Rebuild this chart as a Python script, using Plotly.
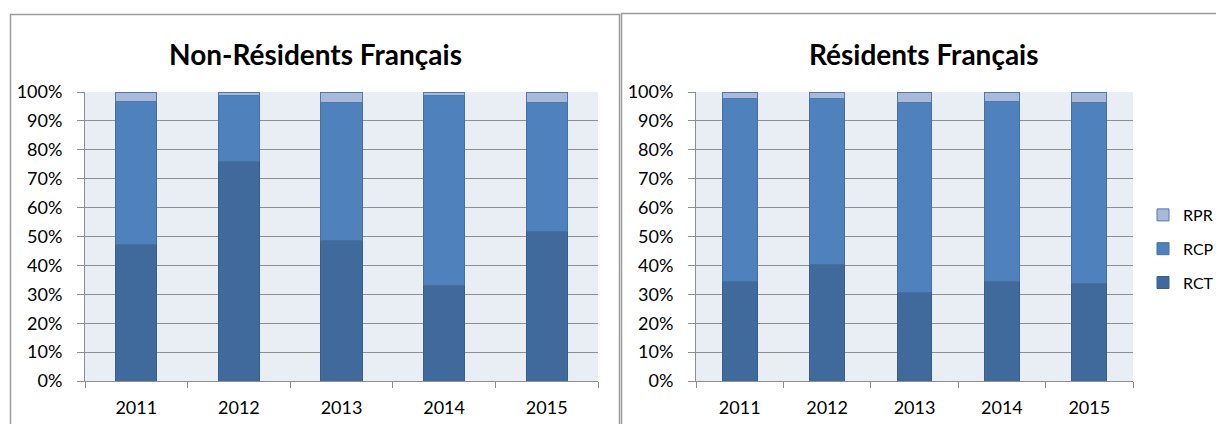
import plotly.graph_objects as go

W, H = 1216, 424

years = ["2011", "2012", "2013", "2014", "2015"]

# Non-Résidents Français (share of each component, %)
nr_rct = [47.3, 75.9, 48.7, 32.9, 51.6]
nr_rcp = [49.5, 22.9, 47.6, 65.9, 44.7]
nr_rpr = [3.2, 1.2, 3.7, 1.2, 3.7]

# Résidents Français (share of each component, %)
r_rct = [34.3, 40.3, 30.6, 34.3, 33.7]
r_rcp = [63.4, 57.4, 65.8, 62.5, 62.6]
r_rpr = [2.3, 2.3, 3.6, 3.2, 3.7]

series_names = ["RCT", "RCP", "RPR"]
legend_rank = {"RPR": 1, "RCP": 2, "RCT": 3}
fills = {"RCT": "#416A9C", "RCP": "#4F81BD", "RPR": "#AAB9D8"}
edges = {"RCT": "#3A5E8C", "RCP": "#44709F", "RPR": "#4E7AB2"}

FONT = "Lato"
GRID = "#8E8E8E"


def px_x(p):
    return p / W


def px_y(p):
    return 1 - p / H


fig = go.Figure()

panels = [
    ("x", "y", [nr_rct, nr_rcp, nr_rpr], False),
    ("x2", "y2", [r_rct, r_rcp, r_rpr], True),
]
for xa, ya, values, show in panels:
    for name, vals in zip(series_names, values):
        fig.add_trace(go.Bar(
            x=years, y=vals, name=name, xaxis=xa, yaxis=ya,
            marker=dict(color=fills[name], line=dict(color=edges[name], width=1)),
            showlegend=show, legendgroup=name, legendrank=legend_rank[name],
        ))

axis_common_x = dict(
    type="category", showgrid=False, showline=True, linecolor=GRID, linewidth=1,
    ticks="outside", tickson="boundaries", ticklen=6, tickcolor=GRID,
    tickfont=dict(family=FONT, size=18, color="#000000"), ticklabelstandoff=10,
    zeroline=False, fixedrange=True, automargin=False,
)
axis_common_y = dict(
    range=[0, 100], dtick=10, ticksuffix="%", showgrid=True, gridcolor=GRID,
    gridwidth=1, showline=True, linecolor=GRID, linewidth=1, ticks="outside",
    ticklen=7, tickcolor=GRID, tickfont=dict(family=FONT, size=18, color="#000000"),
    ticklabelstandoff=11, zeroline=False, fixedrange=True, automargin=False,
)

fig.update_layout(
    width=W, height=H, margin=dict(l=0, r=0, t=0, b=0, pad=0, autoexpand=False),
    paper_bgcolor="#FFFFFF", plot_bgcolor="#E9EDF4",
    barmode="stack", bargap=0.6,
    xaxis=dict(domain=[px_x(85), px_x(598)], anchor="y", **axis_common_x),
    yaxis=dict(domain=[px_y(381), px_y(92)], anchor="x", **axis_common_y),
    xaxis2=dict(domain=[px_x(696), px_x(1133)], anchor="y2", **axis_common_x),
    yaxis2=dict(domain=[px_y(381), px_y(92)], anchor="x2", **axis_common_y),
    legend=dict(
        x=px_x(1143), xanchor="left", y=px_y(198), yanchor="top",
        traceorder="grouped", tracegroupgap=10,
        font=dict(family=FONT, size=16, color="#000000"),
        bgcolor="rgba(0,0,0,0)",
    ),
    showlegend=True,
)

# Chart titles
for text, cx in [("Non-Résidents Français", 315), ("Résidents Français", 924)]:
    fig.add_annotation(
        text=f"<b>{text}</b>", x=px_x(cx), y=px_y(54), xref="paper", yref="paper",
        xanchor="center", yanchor="middle", showarrow=False,
        font=dict(family=FONT, size=28, color="#000000"),
    )

# Chart frames
frame = dict(color="#9C9C9C", width=1.5)
fig.add_shape(type="rect", xref="paper", yref="paper",
              x0=px_x(10.5), x1=px_x(619.5), y0=-0.05, y1=px_y(14.5), line=frame)
fig.add_shape(type="rect", xref="paper", yref="paper",
              x0=px_x(621.5), x1=1.05, y0=-0.05, y1=px_y(13.5), line=frame)

fig.write_html("out.html")
